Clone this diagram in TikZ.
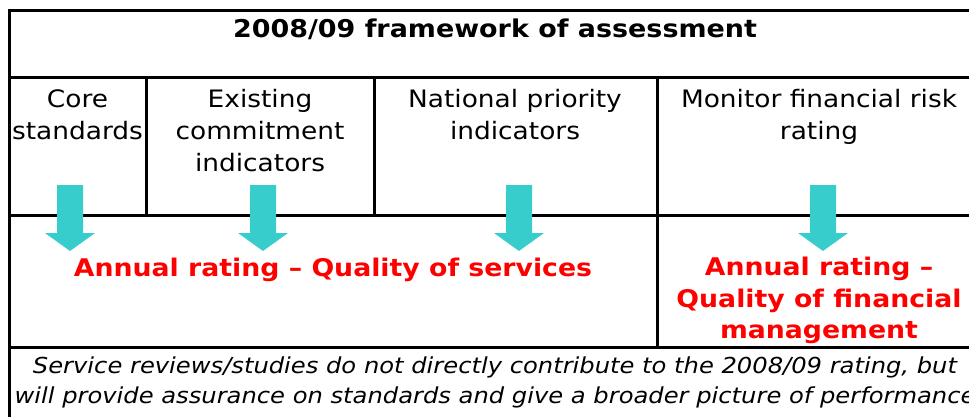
\documentclass[tikz,border=0pt]{standalone}
\usepackage{fontspec}
\setmainfont{DejaVu Sans}[FakeStretch=1.1]
\usetikzlibrary{positioning}
\definecolor{arrowteal}{RGB}{55,205,205}
\definecolor{ratingred}{RGB}{255,0,0}
\tikzset{rule/.style={line width=3pt}}
\tikzset{cell/.style={align=center,inner sep=0pt,font=\fontsize{24}{32}\selectfont}}
\tikzset{rating/.style={cell,text=ratingred,font=\fontsize{24.3}{31.5}\selectfont\bfseries}}
\tikzset{note/.style={align=center,inner sep=0pt,font=\fontsize{22}{29.5}\selectfont\itshape}}
\tikzset{downarrow/.style={fill=arrowteal}}

\begin{document}
\begin{tikzpicture}[x=1pt,y=-1pt]
\useasboundingbox (0,0) rectangle (969,417);
\clip (0,0) rectangle (969,417);
% table rules
\draw[rule] (9.5,9.5) -- (9.5,430);
\draw[rule] (8,11) -- (990,11);
\foreach \y in {78,215,347}
	\draw[rule] (9.5,\y) -- (990,\y);
\foreach \x in {146,374}
	\draw[rule] (\x,78) -- (\x,215);
\draw[rule] (657,78) -- (657,347);

% block arrows
\foreach \x in {70,263,519,823}
	\fill[downarrow] (\x-13,185) -- (\x+13,185) -- (\x+13,233) -- (\x+25,233) -- (\x,251) -- (\x-25,233) -- (\x-13,233) -- cycle;

\node[cell,font=\fontsize{24.5}{32}\selectfont\bfseries] (title) at (495,29) {2008/09 framework of assessment};
\node[cell,anchor=north] (core) at (77.5,89) {Core\\standards};
\node[cell,anchor=north] (existing) at (260,89) {Existing\\commitment\\indicators};
\node[cell,anchor=north] (national) at (515,89) {National priority\\indicators};
\node[cell,anchor=north] (monitor) at (819,89) {Monitor financial risk\\rating};

\node[rating,anchor=base] (services) at (333,276) {Annual rating -- Quality of services};
\node[rating,anchor=north] (financial) at (819,257) {Annual rating --\\Quality of financial\\management};

\node[note,anchor=north] (reviews) at (495,357) {Service reviews/studies do not directly contribute to the 2008/09 rating, but\\will provide assurance on standards and give a broader picture of performance};
\end{tikzpicture}
\end{document}
